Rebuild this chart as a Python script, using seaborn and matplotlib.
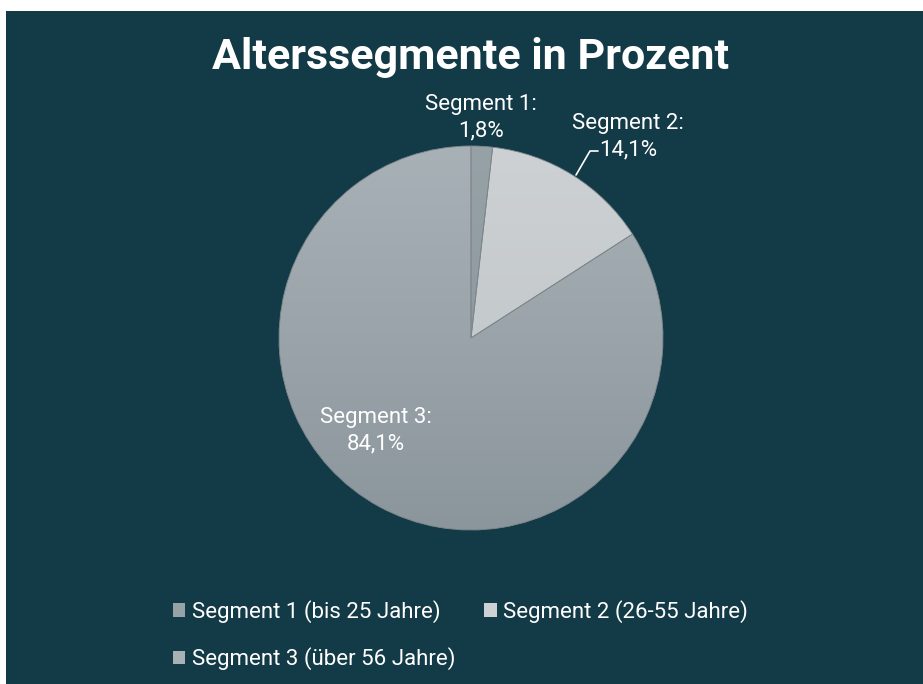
import numpy as np
import matplotlib
matplotlib.use("Agg")
import matplotlib.pyplot as plt
import seaborn as sns
from matplotlib.patches import Rectangle, Patch

# data
segments = ["Segment 1", "Segment 2", "Segment 3"]
shares = [1.8, 14.1, 84.1]
legend_labels = ["Segment 1 (bis 25 Jahre)", "Segment 2 (26-55 Jahre)", "Segment 3 (über 56 Jahre)"]
slice_top = ["#97a2a7", "#cdd1d3", "#a8b1b6"]
slice_bottom = ["#87939a", "#bcc2c5", "#8b969c"]

sns.set_theme(style="dark")
plt.rcParams["font.family"] = ["Roboto", "DejaVu Sans"]

bg = "#133a47"
W, H = 923, 684
fig = plt.figure(figsize=(W / 100, H / 100), dpi=100)
fig.patch.set_facecolor("white")
fig.add_artist(Rectangle((6 / W, 0), 1, 1 - 11 / H, transform=fig.transFigure,
                         facecolor=bg, edgecolor="none", zorder=0))

# pie axes: centre (471, 338), radius 192 px
cx, cy, r = 471, 338, 192
ax = fig.add_axes([(cx - r) / W, (H - cy - r) / H, 2 * r / W, 2 * r / H])
ax.set_facecolor("none")
wedges, _ = ax.pie(shares, startangle=90, counterclock=False,
                   colors=slice_top, radius=1,
                   wedgeprops=dict(edgecolor="#7d878c", linewidth=0.6))
ax.set_xlim(-1, 1)
ax.set_ylim(-1, 1)
ax.set_aspect("equal")
ax.axis("off")

# vertical gradient inside each slice
for w, top, bot in zip(wedges, slice_top, slice_bottom):
    c1 = np.array(matplotlib.colors.to_rgb(top))
    c2 = np.array(matplotlib.colors.to_rgb(bot))
    t = np.linspace(0, 1, 256)[:, None]
    grad = (c1 * (1 - t) + c2 * t)[:, None, :]
    im = ax.imshow(grad, extent=[-1, 1, -1, 1], origin="upper", aspect="auto", zorder=w.get_zorder())
    im.set_clip_path(w)
for w in wedges:
    w.set_facecolor("none")
    w.set_zorder(5)

def fig_xy(px, py):
    return px / W, 1 - py / H

fig.text(*fig_xy(471, 57), "Alterssegmente in Prozent", color="white", fontsize=31,
         fontweight="bold", ha="center", va="center")

lab_pos = [(481, 118), (628, 137), (376, 431)]
for name, val, (px, py) in zip(segments, shares, lab_pos):
    txt = f"{name}:\n{val:.1f}%".replace(".", ",")
    fig.text(*fig_xy(px, py), txt, color="white", fontsize=16, ha="center", va="center",
             linespacing=1.35)

# leader line for segment 2
fig.add_artist(plt.Line2D([576 / W, 590 / W, 598 / W],
                          [1 - 175 / H, 1 - 151 / H, 1 - 151 / H],
                          transform=fig.transFigure, color="white", lw=1.2))

handles = [Patch(facecolor=c, edgecolor="none") for c in slice_top]
order = [0, 2, 1]
fig.legend([handles[i] for i in order], [legend_labels[i] for i in order],
           ncol=2, loc="upper left", bbox_to_anchor=(173 / W, 1 - 600 / H),
           frameon=False, fontsize=16, labelcolor="white",
           borderpad=0, borderaxespad=0,
           handlelength=0.55, handleheight=0.55, handletextpad=0.3,
           columnspacing=1.3, labelspacing=1.1)

fig.savefig("out.png", dpi=100, facecolor=fig.get_facecolor())
